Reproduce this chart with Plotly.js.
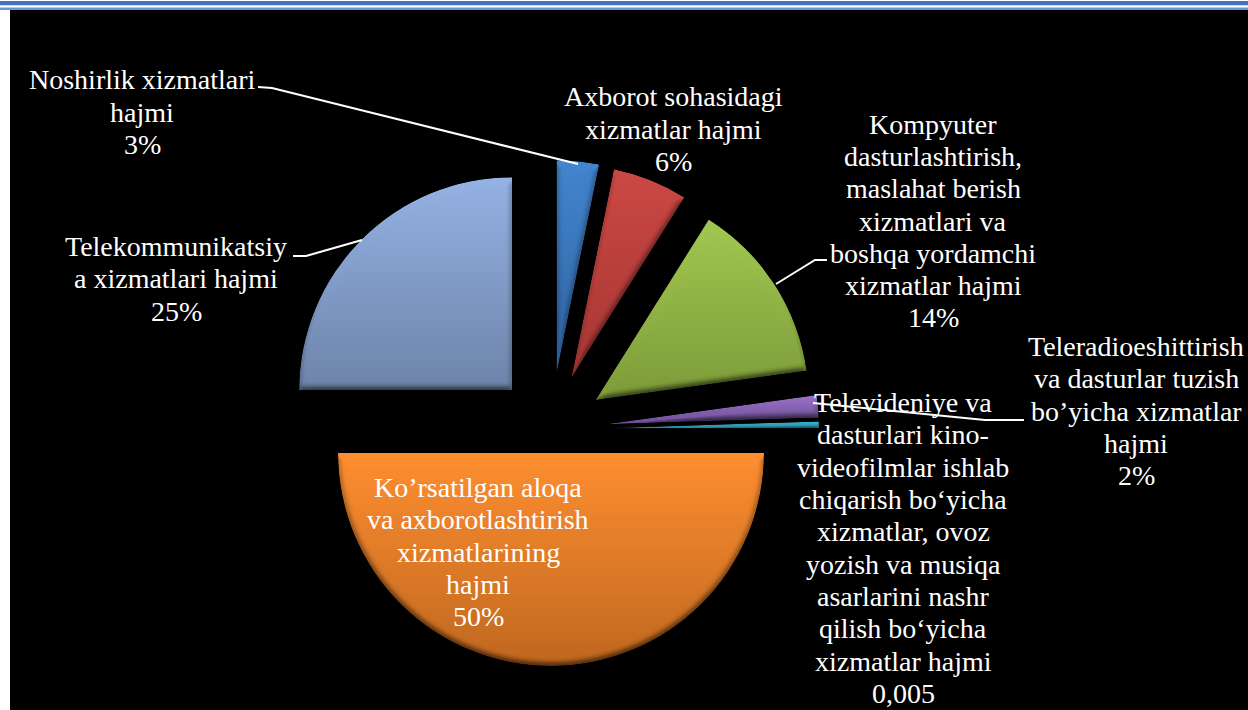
<!DOCTYPE html>
<html>
<head>
<meta charset="utf-8">
<script src="https://cdn.plot.ly/plotly-3.0.1.min.js"></script>
<style>html,body{margin:0;padding:0;background:#fff;overflow:hidden}#chart{width:1248px;height:710px}</style>
</head>
<body>
<div id="chart"></div>
<script>
const categories = [
  "Noshirlik xizmatlari<br>hajmi",
  "Axborot sohasidagi<br>xizmatlar hajmi",
  "Kompyuter<br>dasturlashtirish,<br>maslahat berish<br>xizmatlari va<br>boshqa yordamchi<br>xizmatlar hajmi",
  "Teleradioeshittirish<br>va dasturlar tuzish<br>bo’yicha xizmatlar<br>hajmi",
  "Televideniye va<br>dasturlari kino-<br>videofilmlar ishlab<br>chiqarish bo‘yicha<br>xizmatlar, ovoz<br>yozish va musiqa<br>asarlarini nashr<br>qilish bo‘yicha<br>xizmatlar hajmi",
  "Ko’rsatilgan aloqa<br>va axborotlashtirish<br>xizmatlarining<br>hajmi",
  "Telekommunikatsiy<br>a xizmatlari hajmi"
];
const values = [3.2, 5.7, 13.9, 1.7, 0.5, 50, 25];
const valueLabels = ["3%", "6%", "14%", "2%", "0,005", "50%", "25%"];
const colorsTop = ["#4285d0", "#cc4844", "#a2c750", "#9a72c8", "#38b4d2", "#ff8f30", "#94b2e4"];
const colorsBottom = ["#2f629f", "#a63633", "#7d9c39", "#6f4f96", "#2a8aa2", "#c0671f", "#6e85aa"];

const W = 1248, H = 710, lineStep = 32.3;
const px = x => x / W, py = y => 1 - y / H;
const labelPos = [[142,112],[673,129],[933,221],[1136,411],[903,548],[478,552],[176,279]];
const leaders = [
  [[258,87],[272,88],[578,164]],
  [[776,284],[815,260],[827,260]],
  [[362,240],[306,256],[293,256]],
  [[813,403],[985,420],[1024,420]]
];
const rect = (x0,y0,x1,y1,c) => ({type:'rect',xref:'paper',yref:'paper',layer:'below',
  x0:px(x0),x1:px(x1),y0:py(y0),y1:py(y1),fillcolor:c,line:{width:0}});
const shapes = [
  rect(10,10,W,H,'#000000'),
  rect(0,1,W,5.3,'#4472c4'),
  rect(0,7.5,W,10,'#6c93d6'),
  ...leaders.map(l => ({type:'path',xref:'paper',yref:'paper',layer:'above',
    path:'M'+l.map(p => (p[0]/W)+','+(1-p[1]/H)).join(' L'),
    line:{color:'#ffffff',width:2}}))
];
const annotations = [];
categories.forEach((c,i) => {
  const lines = c.split('<br>').concat(valueLabels[i]);
  lines.forEach((t,k) => annotations.push({
    text:t,xref:'paper',yref:'paper',
    x:px(labelPos[i][0]),y:py(labelPos[i][1]+(k-(lines.length-1)/2)*lineStep),
    xanchor:'center',yanchor:'middle',align:'center',showarrow:false,
    font:{family:'"Liberation Serif",serif',size:28,color:'#ffffff'}
  }));
});

const cx = 551, cy = 429, d = 538;
Plotly.newPlot('chart', [{
  type:'pie',
  values:values,
  labels:values.map((v,i)=>'s'+i),
  sort:false,direction:'clockwise',rotation:0,
  pull:[0.263,0.258,0.25,0.258,0.258,0.113,0.258],
  textinfo:'none',hoverinfo:'skip',
  marker:{colors:colorsTop,line:{width:0}},
  domain:{x:[(cx-d/2)/W,(cx+d/2)/W],y:[1-(cy+d/2)/H,1-(cy-d/2)/H]}
}],{
  width:W,height:H,margin:{l:0,r:0,t:0,b:0},
  paper_bgcolor:'#ffffff',showlegend:false,
  shapes:shapes,annotations:annotations
},{displayModeBar:false,staticPlot:true}).then(gd => {
  const NS='http://www.w3.org/2000/svg';
  const svg = gd.querySelector('.main-svg');
  const defs = svg.querySelector('defs') || svg.insertBefore(document.createElementNS(NS,'defs'),svg.firstChild);
  colorsTop.forEach((c,i)=>{
    const g=document.createElementNS(NS,'linearGradient');
    g.setAttribute('id','sl'+i);g.setAttribute('x1','0');g.setAttribute('y1','0');g.setAttribute('x2','0');g.setAttribute('y2','1');
    [[0,c],[1,colorsBottom[i]]].forEach(s=>{const e=document.createElementNS(NS,'stop');e.setAttribute('offset',s[0]);e.setAttribute('stop-color',s[1]);g.appendChild(e);});
    defs.appendChild(g);
  });
  const f=document.createElementNS(NS,'filter');
  f.setAttribute('id','bevel');f.setAttribute('x','-5%');f.setAttribute('y','-5%');f.setAttribute('width','110%');f.setAttribute('height','110%');
  f.setAttribute('color-interpolation-filters','sRGB');
  f.innerHTML='<feGaussianBlur in="SourceAlpha" stdDeviation="3" result="b"/>'+
    '<feDiffuseLighting in="b" surfaceScale="3" diffuseConstant="1.15" lighting-color="#ffffff" result="l"><feDistantLight azimuth="270" elevation="60"/></feDiffuseLighting>'+
    '<feComposite in="SourceGraphic" in2="l" operator="arithmetic" k1="1" k2="0" k3="0" k4="0" result="m"/>'+
    '<feComposite in="m" in2="SourceAlpha" operator="in"/>';
  defs.appendChild(f);
  gd.querySelectorAll('.slice').forEach((s,i)=>{
    const p=s.querySelector('path.surface');
    p.style.fill='url(#sl'+i+')';
    s.setAttribute('filter','url(#bevel)');
  });
});
</script>
</body>
</html>
